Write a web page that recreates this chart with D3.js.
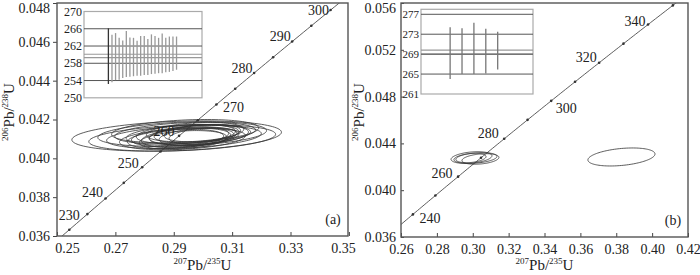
<!DOCTYPE html>
<html>
<head>
<meta charset="utf-8">
<script src="https://cdn.jsdelivr.net/npm/d3@7/dist/d3.min.js"></script>
<style>
body { margin: 0; background: #fff; }
svg text { font-family: "Liberation Serif", "Times New Roman", serif; fill: #222; }
</style>
</head>
<body>
<div class="chart"></div>
<script>
var svgWidth = 700;
var svgHeight = 275;

// decay constants (1/yr) used to place the concordia
var lambda238 = 1.55125e-10;
var lambda235 = 9.8485e-10;

// ---- panel (a) data ----
var xTicksA = [0.25, 0.27, 0.29, 0.31, 0.33, 0.35];
var yTicksA = [0.036, 0.038, 0.040, 0.042, 0.044, 0.046, 0.048];
var markAgesA = [225, 230, 235, 240, 245, 250, 255, 260, 265, 270, 275, 280, 285, 290, 295, 300, 305];
var labelAgesA = [230, 240, 250, 260, 270, 280, 290, 300];
// error ellipses: 207Pb/235U, 206Pb/238U, semi-axes and correlation
var ellA_x   = [0.2910, 0.2929, 0.2929, 0.2935, 0.2939, 0.2930, 0.2950, 0.2939, 0.2942, 0.2942, 0.2973, 0.2952, 0.2978, 0.2978, 0.2998, 0.3000, 0.2906, 0.2939, 0.2932, 0.2986];
var ellA_y   = [0.04115, 0.04105, 0.04125, 0.04110, 0.04130, 0.04100, 0.04120, 0.04110, 0.04125, 0.04105, 0.04135, 0.04115, 0.04125, 0.04110, 0.04130, 0.04115, 0.04100, 0.04140, 0.04095, 0.04120];
var ellA_sx  = [0.0359, 0.0320, 0.0289, 0.0265, 0.0241, 0.0216, 0.0213, 0.0184, 0.0170, 0.0153, 0.0167, 0.0136, 0.0145, 0.0128, 0.0131, 0.0116, 0.0165, 0.0252, 0.0150, 0.0170];
var ellA_sy  = [0.00078, 0.00068, 0.00064, 0.00060, 0.00056, 0.00056, 0.00054, 0.00052, 0.00050, 0.00050, 0.00050, 0.00046, 0.00046, 0.00045, 0.00045, 0.00042, 0.00050, 0.00060, 0.00048, 0.00052];
var ellA_rho = [0.25, 0.28, 0.28, 0.3, 0.3, 0.3, 0.3, 0.3, 0.3, 0.3, 0.3, 0.3, 0.3, 0.3, 0.3, 0.3, 0.3, 0.28, 0.3, 0.3];
// inset (a): 206Pb/238U ages with error bars (Ma)
var insetA_top    = [266.1, 264.6, 265.0, 263.9, 263.3, 265.5, 264.0, 263.9, 263.2, 264.3, 264.3, 263.6, 264.7, 264.3, 263.9, 264.9, 263.9, 264.2, 264.2, 264.2];
var insetA_bottom = [253.2, 253.6, 254.1, 254.2, 254.6, 254.8, 254.9, 255.0, 255.1, 255.1, 255.3, 255.3, 255.5, 255.6, 255.7, 255.7, 255.9, 256.0, 256.2, 256.5];
var insetA_ticks = [250, 254, 258, 262, 266, 270];
var insetA_mean = [259.3, 260.1];

// ---- panel (b) data ----
var xTicksB = [0.26, 0.28, 0.30, 0.32, 0.34, 0.36, 0.38, 0.40, 0.42];
var yTicksB = [0.036, 0.040, 0.044, 0.048, 0.052, 0.056];
var markAgesB = [230, 240, 250, 260, 270, 280, 290, 300, 310, 320, 330, 340, 350];
var labelAgesB = [240, 260, 280, 300, 320, 340];
var ellB_x   = [0.2993, 0.3015, 0.3043, 0.2990, 0.3829];
var ellB_y   = [0.04279, 0.04275, 0.04267, 0.04275, 0.04284];
var ellB_sx  = [0.0114, 0.0120, 0.0103, 0.0084, 0.0187];
var ellB_sy  = [0.00050, 0.00046, 0.00045, 0.00040, 0.00077];
var ellB_rho = [0.3, 0.3, 0.3, 0.3, 0.33];
var insetB_top    = [274.4, 274.2, 275.3, 274.1, 273.5];
var insetB_bottom = [264.0, 265.0, 265.0, 265.1, 265.9];
var insetB_ticks = [261, 265, 269, 273, 277];
var insetB_mean = [269.0, 269.8];

// label placement next to concordia marks (px)
var labelShiftA = {230: [0, -15], 240: [-13, -6], 250: [-14, -4], 260: [-15, -5], 270: [17, 3], 280: [-12, -5], 290: [-12, -5], 300: [-12, 0]};
var labelShiftB = {240: [17, 4], 260: [-16, -4], 280: [-16, -6], 300: [15, 7], 320: [-13, -6], 340: [-13, -3]};

var svg = d3.select(".chart").append("svg")
    .attr("width", svgWidth)
    .attr("height", svgHeight);

function ratio206(t) { return Math.exp(lambda238 * t * 1e6) - 1; }
function ratio207(t) { return Math.exp(lambda235 * t * 1e6) - 1; }

function drawPanel(p) {
    var x = d3.scaleLinear().domain(p.xDomain).range([p.left, p.right]);
    var y = d3.scaleLinear().domain(p.yDomain).range([p.bottom, p.top]);
    var g = svg.append("g");

    var clipId = "clip" + p.name;
    svg.append("clipPath").attr("id", clipId)
        .append("rect")
        .attr("x", p.left).attr("y", p.top)
        .attr("width", p.right - p.left).attr("height", p.bottom - p.top);

    var plot = g.append("g").attr("clip-path", "url(#" + clipId + ")");

    // error ellipses
    var angles = d3.range(0, 2 * Math.PI + 0.01, Math.PI / 60);
    var ellipseLine = d3.line().x(function(d) { return x(d[0]); }).y(function(d) { return y(d[1]); });
    p.ellX.forEach(function(cx, i) {
        var sx = p.ellSx[i], sy = p.ellSy[i], r = p.ellRho[i];
        var pts = angles.map(function(a) {
            return [cx + sx * Math.cos(a), p.ellY[i] + sy * (r * Math.cos(a) + Math.sqrt(1 - r * r) * Math.sin(a))];
        });
        plot.append("path")
            .attr("d", ellipseLine(pts))
            .attr("fill", "none")
            .attr("stroke", "#333")
            .attr("stroke-width", 0.8);
    });

    // concordia curve
    var curveAges = d3.range(200, 381, 1);
    var concordia = d3.line()
        .x(function(t) { return x(ratio207(t)); })
        .y(function(t) { return y(ratio206(t)); });
    plot.append("path")
        .attr("d", concordia(curveAges))
        .attr("fill", "none")
        .attr("stroke", "#333")
        .attr("stroke-width", 0.8);

    plot.selectAll("circle.mark")
        .data(p.markAges)
        .enter()
        .append("circle")
        .attr("class", "mark")
        .attr("cx", function(t) { return x(ratio207(t)); })
        .attr("cy", function(t) { return y(ratio206(t)); })
        .attr("r", 1.3)
        .attr("fill", "#333");

    g.selectAll("text.age")
        .data(p.labelAges)
        .enter()
        .append("text")
        .attr("class", "age")
        .attr("x", function(t) { return x(ratio207(t)) + p.labelShift[t][0]; })
        .attr("y", function(t) { return y(ratio206(t)) + p.labelShift[t][1]; })
        .attr("dy", "0.35em")
        .attr("text-anchor", "middle")
        .style("font-size", "14px")
        .text(function(t) { return t; });

    // axes
    var bottomAxis = d3.axisBottom(x).tickValues(p.xTicks).tickFormat(d3.format(".2f"))
        .tickSizeInner(-4).tickSizeOuter(0).tickPadding(7);
    var leftAxis = d3.axisLeft(y).tickValues(p.yTicks).tickFormat(d3.format(".3f"))
        .tickSizeInner(p.yTickSize).tickSizeOuter(0).tickPadding(p.yTickPad);

    var xa = g.append("g").attr("transform", "translate(0," + p.bottom + ")").call(bottomAxis);
    var ya = g.append("g").attr("transform", "translate(" + p.left + ",0)").call(leftAxis);
    [xa, ya].forEach(function(a) {
        a.select(".domain").remove();
        a.selectAll("line").attr("stroke", "#444");
        a.selectAll("text").style("font-size", "14px").attr("fill", "#222");
    });
    xa.selectAll("text").attr("dx", function(d, i) { return p.xLabelShift[i] || 0; });
    // keep the top label inside the picture
    var nY = p.yTicks.length;
    ya.selectAll("text").attr("y", function(d, i) { return i === nY - 1 ? 5 : 0; });

    g.append("rect")
        .attr("x", p.left).attr("y", p.top)
        .attr("width", p.right - p.left).attr("height", p.bottom - p.top)
        .attr("fill", "none")
        .attr("stroke", "#555")
        .attr("stroke-width", 1.4);

    // axis titles
    function ratioTitle(sel, top, bot) {
        sel.append("tspan").style("font-size", "9px").attr("dy", -6).text(top);
        sel.append("tspan").style("font-size", "15px").attr("dy", 6).text("Pb/");
        sel.append("tspan").style("font-size", "9px").attr("dy", -6).text(bot);
        sel.append("tspan").style("font-size", "15px").attr("dy", 6).text("U");
    }
    var xt = g.append("text")
        .attr("x", (p.left + p.right) / 2)
        .attr("y", 270)
        .attr("text-anchor", "middle");
    ratioTitle(xt, "207", "235");
    var yt = g.append("text")
        .attr("transform", "translate(" + p.yTitleX + ",112) rotate(-90)")
        .attr("text-anchor", "middle");
    ratioTitle(yt, "206", "238");

    g.append("text")
        .attr("x", p.right - 15)
        .attr("y", p.bottom - 12)
        .attr("text-anchor", "middle")
        .style("font-size", "14px")
        .text(p.tag);

    // inset of ages
    var ix = d3.scaleLinear().domain(p.inset.xDomain).range([p.inset.left, p.inset.right]);
    var iy = d3.scaleLinear().domain(p.inset.yDomain).range([p.inset.bottom, p.inset.top]);
    var ig = g.append("g");
    ig.append("rect")
        .attr("x", p.inset.left).attr("y", p.inset.top)
        .attr("width", p.inset.right - p.inset.left).attr("height", p.inset.bottom - p.inset.top)
        .attr("fill", "#fff")
        .attr("stroke", "#aaa")
        .attr("stroke-width", 1.2);
    ig.selectAll("line.mean")
        .data(p.inset.mean)
        .enter()
        .append("line")
        .attr("x1", p.inset.left).attr("x2", p.inset.right)
        .attr("y1", function(d) { return iy(d); })
        .attr("y2", function(d) { return iy(d); })
        .attr("stroke", "#999")
        .attr("stroke-width", 1.1);
    ig.selectAll("line.grid")
        .data(p.inset.ticks.slice(1, -1).concat(p.inset.extraGrid))
        .enter()
        .append("line")
        .attr("x1", p.inset.left).attr("x2", p.inset.right)
        .attr("y1", function(d) { return iy(d); })
        .attr("y2", function(d) { return iy(d); })
        .attr("stroke", "#555")
        .attr("stroke-width", 1);
    ig.selectAll("line.bar")
        .data(p.inset.topVals)
        .enter()
        .append("line")
        .attr("x1", function(d, i) { return ix(i); })
        .attr("x2", function(d, i) { return ix(i); })
        .attr("y1", function(d) { return iy(d); })
        .attr("y2", function(d, i) { return iy(p.inset.botVals[i]); })
        .attr("stroke", function(d, i) { return i === 0 ? p.inset.firstColor : p.inset.barColor; })
        .attr("stroke-width", 1.3);
    ig.selectAll("text.itick")
        .data(p.inset.ticks)
        .enter()
        .append("text")
        .attr("x", p.inset.left - 2)
        .attr("y", function(d) { return iy(d); })
        .attr("dy", "0.35em")
        .attr("text-anchor", "end")
        .style("font-size", p.inset.fontSize)
        .text(function(d) { return d; });
}

drawPanel({
    name: "a", tag: "(a)",
    left: 57, right: 348, top: 3, bottom: 236,
    xDomain: [0.25, 0.3497], yDomain: [0.036, 0.048],
    xTicks: xTicksA, yTicks: yTicksA, xLabelShift: [10, 0, 0, 0, 0, -6],
    yTickSize: 4, yTickPad: 3, yTitleX: 14,
    markAges: markAgesA, labelAges: labelAgesA, labelShift: labelShiftA,
    ellX: ellA_x, ellY: ellA_y, ellSx: ellA_sx, ellSy: ellA_sy, ellRho: ellA_rho,
    inset: {
        left: 84, right: 202, top: 11.5, bottom: 97.8,
        xDomain: [-6.8, 26.1], yDomain: [250, 270],
        topVals: insetA_top, botVals: insetA_bottom,
        ticks: insetA_ticks, mean: insetA_mean, extraGrid: [],
        firstColor: "#333", barColor: "#999", fontSize: "12px"
    }
});

drawPanel({
    name: "b", tag: "(b)",
    left: 401, right: 688, top: 3, bottom: 237,
    xDomain: [0.26, 0.42], yDomain: [0.036, 0.056],
    xTicks: xTicksB, yTicks: yTicksB, xLabelShift: [],
    yTickSize: -3, yTickPad: 5, yTitleX: 364,
    markAges: markAgesB, labelAges: labelAgesB, labelShift: labelShiftB,
    ellX: ellB_x, ellY: ellB_y, ellSx: ellB_sx, ellSy: ellB_sy, ellRho: ellB_rho,
    inset: {
        left: 421, right: 533, top: 9.3, bottom: 94,
        xDomain: [-2.45, 6.97], yDomain: [261, 278],
        topVals: insetB_top, botVals: insetB_bottom,
        ticks: insetB_ticks, mean: insetB_mean, extraGrid: [277],
        firstColor: "#777", barColor: "#777", fontSize: "11px"
    }
});
</script>
</body>
</html>
